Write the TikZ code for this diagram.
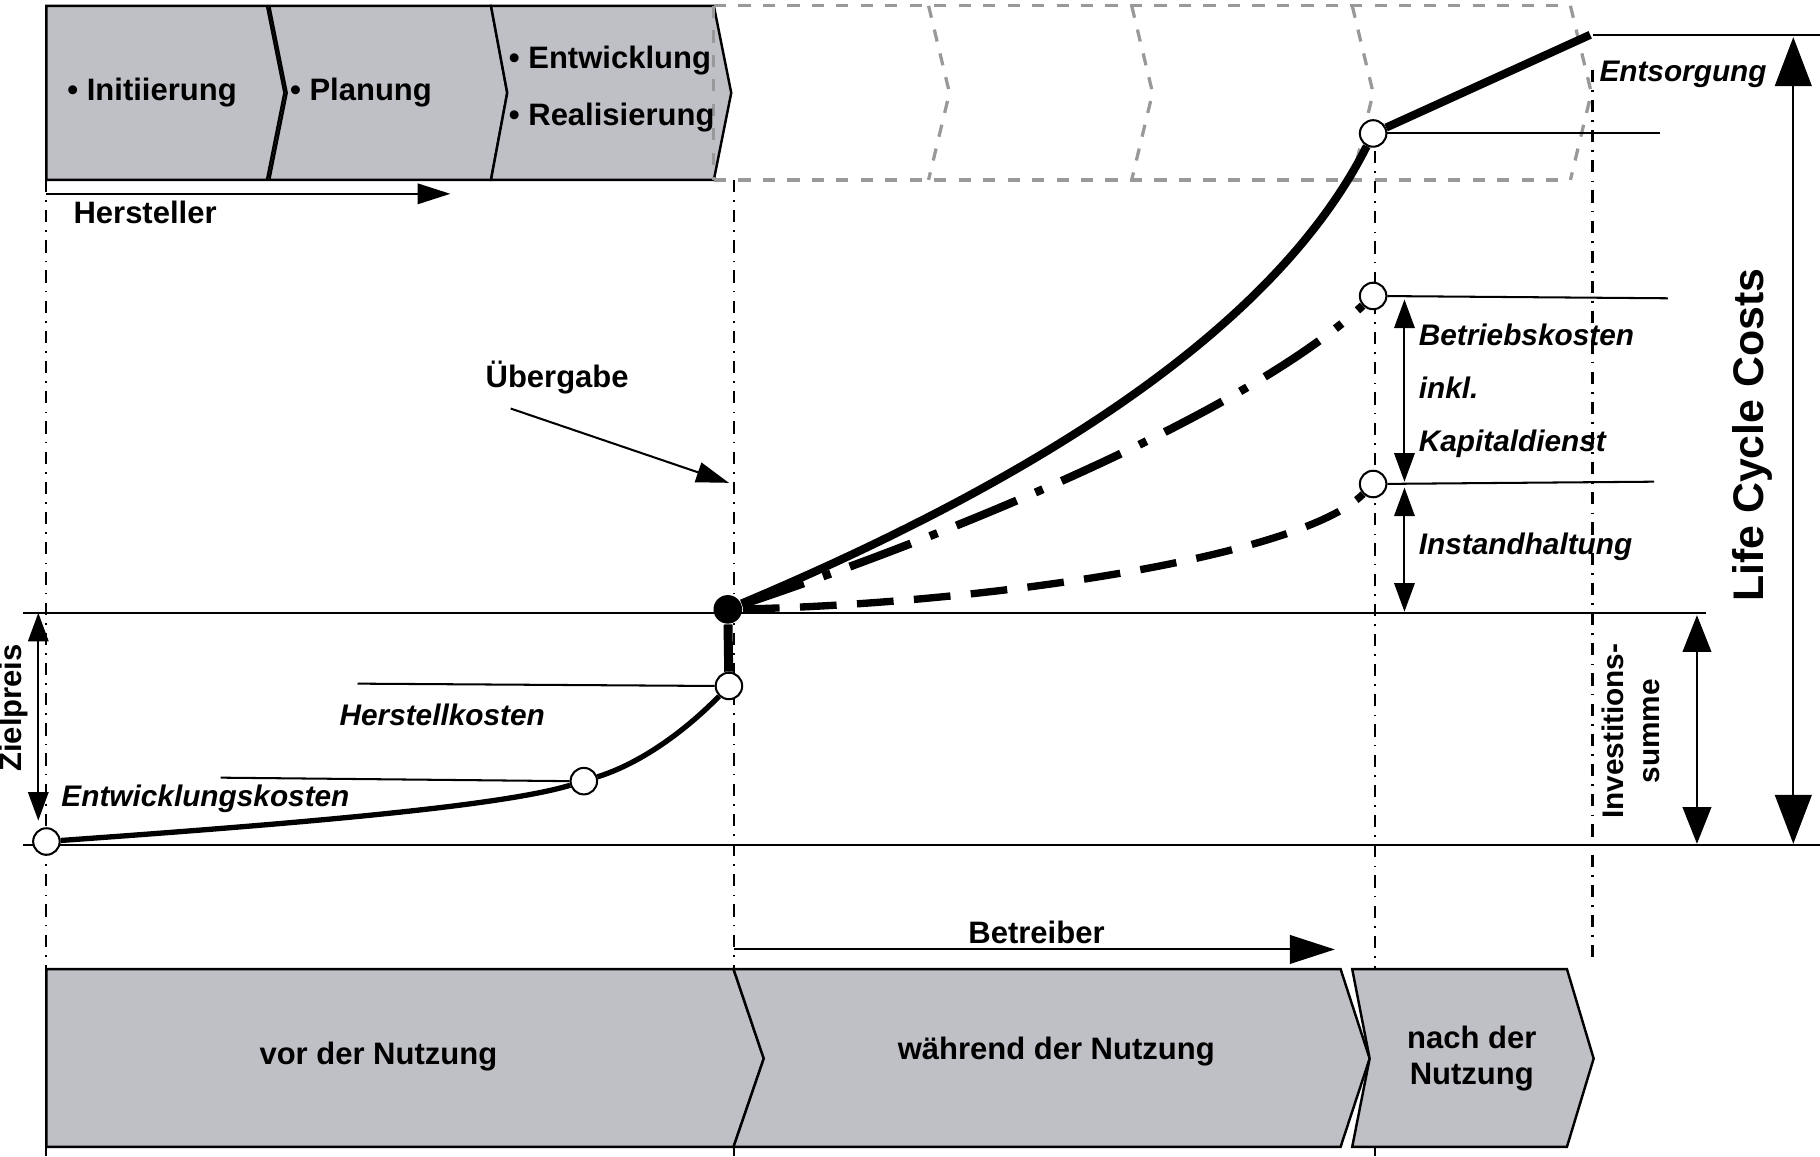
\documentclass[tikz,border=0pt]{standalone}
\usepackage{fontspec}
\setmainfont{Liberation Sans}
\usetikzlibrary{arrows.meta}
\definecolor{chevgray}{RGB}{191,192,198}
\tikzset{
  phase/.style={draw=black,fill=chevgray,line width=0.6pt},
  ghost/.style={draw=gray!80,dashed,line width=0.8pt},
  guide/.style={dash dot,line width=0.5pt},
  thin line/.style={line width=0.5pt},
  lbl/.style={font=\fontsize{7.6}{9}\selectfont\bfseries},
  ilbl/.style={font=\fontsize{7.3}{9}\selectfont\bfseries\itshape,align=left},
  dim/.style={line width=0.5pt,{Triangle[width=5pt,length=7pt]}-{Triangle[width=5pt,length=7pt]}},
  ring/.style={circle,draw,fill=white,inner sep=0pt,minimum width=5pt,minimum height=6.5pt,line width=0.5pt},
}
\begin{document}
\begin{tikzpicture}[x=0.1mm,y=-0.1mm]
  \useasboundingbox (0,0) rectangle (1568,996);
  % top phases
  \draw[phase] (40,5) -- (230,5) -- (245,80) -- (230,155) -- (40,155) -- cycle;
  \draw[phase] (232,5) -- (423,5) -- (437,80) -- (423,155) -- (232,155) -- (247,80) -- cycle;
  \draw[phase] (423,5) -- (615,5) -- (630,80) -- (615,155) -- (423,155) -- (437,80) -- cycle;
  \draw[ghost] (615,5) -- (1353,5) (615,155) -- (1353,155) (615,5) -- (615,155);
  \foreach \xa in {800,975,1165,1353}
    \draw[ghost] (\xa,5) -- (\xa+18,80) -- (\xa,155);
  \node[lbl] (ini) at (131,80) {• Initiierung};
  \node[lbl] (pla) at (311,80) {• Planung};
  \node[lbl,align=left] (ent) at (527,77) {• Entwicklung\\[5pt]• Realisierung};
  % makers
  \coordinate (hs) at (40,167); \coordinate (he) at (388,167);
  \draw[thin line,-{Triangle[width=5pt,length=8pt]}] (hs) -- (he);
  \node[lbl] (her) at (125,183) {Hersteller};
  % guide lines
  \draw[guide] (40,155) -- (40,996);
  \draw[guide] (632,155) -- (632,996);
  \draw[guide] (1185,130) -- (1185,996);
  \draw[guide] (1372,60) -- (1372,830);
  \draw[thin line] (20,528) -- (1470,528);
  \draw[thin line] (20,728) -- (1568,728);
  \draw[thin line] (1372,30) -- (1568,30);
  % lower curve
  \node[ring] (c0) at (40,725) {};
  \node[ring] (c1) at (503,673) {};
  \node[ring] (c2) at (628,591) {};
  \node[circle,fill=black,inner sep=0pt,minimum size=7pt] (ub) at (627,525) {};
  \draw[line width=1.3pt] (c0) .. controls (250,710) and (430,695) .. (c1);
  \draw[line width=1.3pt] (c1) .. controls (560,655) and (600,620) .. (c2);
  \draw[line width=2.2pt] (c2) -- (ub);
  \coordinate (ek) at (190,670); \coordinate (hk) at (308,589);
  \draw[thin line] (ek) -- (c1.west);
  \draw[thin line] (hk) -- (c2.west);
  \node[ilbl] (ekl) at (177,688) {Entwicklungskosten};
  \node[ilbl] (hkl) at (381,616) {Herstellkosten};
  % upper curves
  \node[ring] (u1) at (1183,115) {};
  \node[ring] (u2) at (1183,255) {};
  \node[ring] (u3) at (1183,417) {};
  \draw[line width=2pt] (ub) .. controls (900,410) and (1100,280) .. (u1);
  \draw[line width=2pt] (u1) -- (1370,30);
  \draw[line width=2pt,dash pattern=on 16pt off 5pt on 2pt off 5pt] (ub) .. controls (850,450) and (1080,350) .. (u2);
  \draw[line width=1.8pt,dash pattern=on 9pt off 5pt] (ub) .. controls (850,520) and (1120,480) .. (u3);
  \coordinate (e1) at (1430,115); \coordinate (e2) at (1437,257); \coordinate (e3) at (1425,415);
  \draw[thin line] (u1) -- (e1);
  \draw[thin line] (u2) -- (e2);
  \draw[thin line] (u3) -- (e3);
  \coordinate (b1) at (1210,258); \coordinate (b2) at (1210,415);
  \coordinate (b3) at (1210,420); \coordinate (b4) at (1210,527);
  \draw[dim] (b1) -- (b2);
  \draw[dim] (b3) -- (b4);
  \node[ilbl,anchor=west] (bk) at (1210,337) {Betriebskosten\\[4pt]inkl.\\[4pt]Kapitaldienst};
  \node[ilbl,anchor=west] (ih) at (1210,471) {Instandhaltung};
  \node[ilbl] (es) at (1450,64) {Entsorgung};
  % dimensions
  \coordinate (l1) at (1545,32); \coordinate (l2) at (1545,727);
  \draw[line width=0.5pt,{Triangle[width=9pt,length=12pt]}-{Triangle[width=9pt,length=12pt]}] (l1) -- (l2);
  \node[font=\fontsize{10.5}{12}\selectfont\bfseries,rotate=90] (lcc) at (1510,375) {Life Cycle Costs};
  \coordinate (i1) at (1462,530); \coordinate (i2) at (1462,727);
  \draw[line width=0.5pt,{Triangle[width=7pt,length=9pt]}-{Triangle[width=7pt,length=9pt]}] (i1) -- (i2);
  \node[font=\fontsize{7.3}{9}\selectfont\bfseries,rotate=90,align=center] (inv) at (1405,630) {Investitions-\\summe};
  \coordinate (z1) at (33,528); \coordinate (z2) at (33,707);
  \draw[dim] (z1) -- (z2);
  \node[lbl,rotate=90] (zp) at (12,610) {Zielpreis};
  % handover
  \node[lbl] (ug) at (480,325) {Übergabe};
  \coordinate (ua) at (628,416);
  \draw[thin line,-{Triangle[width=5pt,length=8pt]}] (440,352) -- (ua);
  % operator
  \coordinate (bs) at (632,818); \coordinate (be) at (1150,818);
  \draw[thin line,-{Triangle[width=7pt,length=11pt]}] (bs) -- (be);
  \node[lbl] (btr) at (893,803) {Betreiber};
  % bottom phases
  \draw[phase] (40,835) -- (632,835) -- (658,912) -- (632,988) -- (40,988) -- cycle;
  \draw[phase] (632,835) -- (1155,835) -- (1180,912) -- (1155,988) -- (632,988) -- (658,912) -- cycle;
  \draw[phase] (1165,835) -- (1350,835) -- (1373,912) -- (1350,988) -- (1165,988) -- (1180,912) -- cycle;
  \node[lbl] (vor) at (326,910) {vor der Nutzung};
  \node[lbl] (wae) at (910,906) {während der Nutzung};
  \node[lbl,align=center] (nac) at (1268,912) {nach der\\Nutzung};
\end{tikzpicture}
\end{document}
